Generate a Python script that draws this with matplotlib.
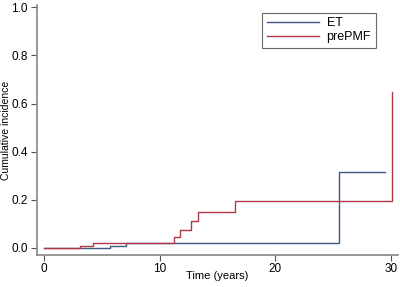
import matplotlib
matplotlib.use("Agg")
import matplotlib.pyplot as plt

plt.rcParams['font.family'] = ['Liberation Sans', 'DejaVu Sans']

# step functions (time in years, cumulative incidence)
et_time = [0, 3.1, 5.7, 7.1, 25.5, 29.5]
et_cif = [0, 0.0, 0.007, 0.018, 0.317, 0.317]

pmf_time = [0, 3.1, 4.2, 11.2, 11.75, 12.75, 13.3, 16.5, 30.1]
pmf_cif = [0, 0.008, 0.022, 0.045, 0.073, 0.11, 0.15, 0.195, 0.65]

xticks = [0, 10, 20, 30]
yticks = [0.0, 0.2, 0.4, 0.6, 0.8, 1.0]

fig = plt.figure(figsize=(4.0, 2.87), dpi=100)
ax = fig.add_axes([0.0925, 0.1115, 0.9025, 0.871])

ax.step(et_time, et_cif, where='post', color='#3d5a80', lw=1.0, label='ET')
ax.step(pmf_time, pmf_cif, where='post', color='#b03a48', lw=1.0, label='prePMF')

ax.set_xlim(-0.6, 30.6)
ax.set_ylim(-0.03, 1.01)
ax.set_xticks(xticks)
ax.set_xticklabels([str(t) for t in xticks])
ax.set_yticks(yticks)
ax.set_yticklabels(['%.1f' % t for t in yticks])

for s in ['top', 'right']:
    ax.spines[s].set_visible(False)
for s in ['left', 'bottom']:
    ax.spines[s].set_color('#888888')
    ax.spines[s].set_linewidth(1.2)
ax.tick_params(colors='#555555', labelcolor='black', labelsize=8.5, length=4, width=0.8)
ax.tick_params(axis='y', pad=2.5)
ax.tick_params(axis='x', pad=1.5)

ax.set_xlabel('Time (years)', fontsize=8)
ax.set_ylabel('Cumulative incidence', fontsize=7.5)
ax.yaxis.set_label_coords(-0.073, 0.5)
ax.xaxis.set_label_coords(0.5, -0.065)

leg = ax.legend(loc='upper right', bbox_to_anchor=(0.955, 0.995), fontsize=9, frameon=True,
                fancybox=False, handlelength=4.2, borderpad=0.35, labelspacing=0.2, handletextpad=0.6)
leg.get_frame().set_edgecolor('#444444')
leg.get_frame().set_linewidth(0.8)

fig.savefig('out.png', dpi=100)
